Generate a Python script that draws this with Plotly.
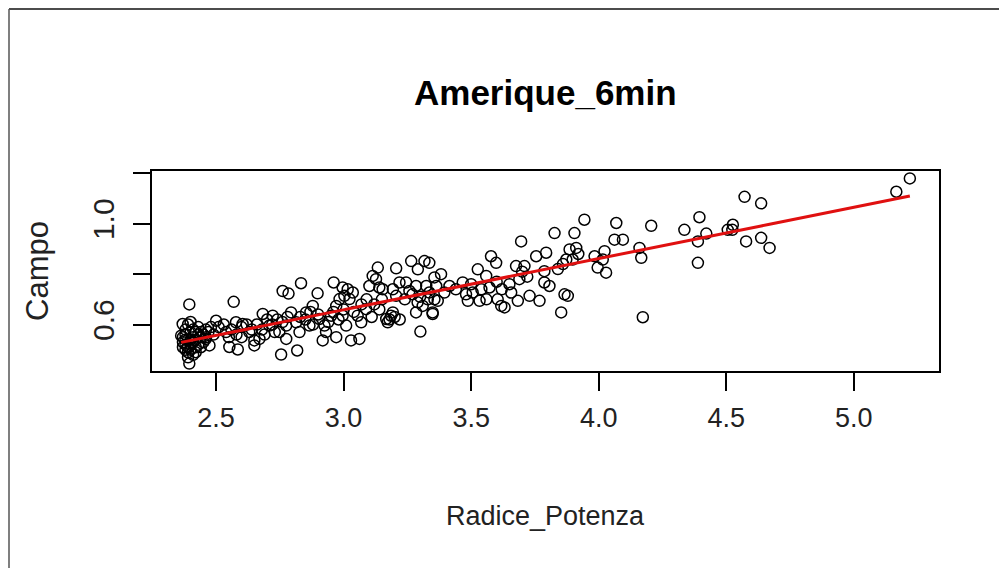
import numpy as np
import plotly.graph_objects as go

title_text = "Amerique_6min"
x_label = "Radice_Potenza"
y_label = "Campo"

radice_potenza = [
    2.363, 2.369, 2.37, 2.38, 2.38, 2.39, 2.37, 2.38, 2.39, 2.40, 2.40, 2.41, 2.41, 2.42, 2.42,
    2.43, 2.43, 2.39, 2.395, 2.41, 2.38, 2.39, 2.40, 2.395, 2.44, 2.44, 2.45, 2.45, 2.37, 2.38,
    2.40, 2.41, 2.42, 2.43, 2.46, 2.46, 2.47, 2.48, 2.49, 2.46, 2.474, 2.39, 2.40, 2.42, 2.44,
    2.50, 2.51, 2.539, 2.552, 2.569, 2.578, 2.585, 2.604, 2.63, 2.65, 2.65, 2.67, 2.683, 2.709,
    2.722, 2.748, 2.755, 2.761, 2.775, 2.775, 2.784, 2.794, 2.814, 2.818, 2.833, 2.53, 2.56,
    2.58, 2.60, 2.62, 2.64, 2.66, 2.68, 2.70, 2.72, 2.74, 2.76, 2.78, 2.55, 2.60, 2.69, 2.73,
    2.827, 2.853, 2.866, 2.879, 2.898, 2.905, 2.918, 2.925, 2.931, 2.951, 2.961, 2.971, 2.971,
    2.984, 2.996, 2.996, 3.003, 3.01, 3.016, 3.023, 3.029, 3.036, 3.055, 3.062, 3.069, 3.088,
    2.85, 2.88, 2.90, 2.94, 2.96, 2.98, 3.00, 3.04, 3.07, 3.09, 2.83, 2.87,
    3.101, 3.114, 3.127, 3.134, 3.14, 3.153, 3.167, 3.173, 3.186, 3.193, 3.193, 3.206, 3.206,
    3.219, 3.245, 3.258, 3.265, 3.284, 3.284, 3.29, 3.291, 3.301, 3.31, 3.317, 3.324, 3.336,
    3.349, 3.356, 3.369, 3.12, 3.15, 3.18, 3.20, 3.22, 3.24, 3.27, 3.30, 3.33, 3.11, 3.14,
    3.336, 3.349, 3.356, 3.363, 3.382, 3.395, 3.415, 3.467, 3.487, 3.506, 3.526, 3.533, 3.559,
    3.572, 3.578, 3.598, 3.604, 3.618, 3.631, 3.657, 3.676, 3.683, 3.689, 3.696, 3.709, 3.729,
    3.755, 3.768, 3.787, 3.787, 3.794, 3.807, 3.44, 3.48, 3.50, 3.54, 3.56, 3.60, 3.62, 3.65,
    3.70, 3.72,
    3.827, 3.853, 3.866, 3.873, 3.879, 3.886, 3.898, 3.905, 3.912, 3.944, 3.984, 3.996, 4.016,
    4.023, 4.029, 4.062, 4.069, 4.095, 4.16, 4.167, 4.173, 4.206, 3.84, 3.86, 3.92,
    4.336, 4.389, 4.389, 4.395, 4.422, 4.506, 4.524, 4.526, 4.572, 4.578, 4.637, 4.637, 4.67,
    5.167, 5.22,
]

campo = [
    0.556, 0.602, 0.55, 0.52, 0.50, 0.49, 0.53, 0.56, 0.54, 0.52, 0.50, 0.53, 0.55, 0.51, 0.54,
    0.52, 0.56, 0.47, 0.445, 0.48, 0.58, 0.60, 0.61, 0.680, 0.55, 0.57, 0.53, 0.56, 0.51, 0.54,
    0.57, 0.58, 0.57, 0.59, 0.58, 0.55, 0.57, 0.59, 0.56, 0.543, 0.517, 0.51, 0.54, 0.49, 0.51,
    0.615, 0.59, 0.57, 0.511, 0.690, 0.609, 0.501, 0.602, 0.57, 0.537, 0.517, 0.543, 0.642, 0.596,
    0.635, 0.57, 0.481, 0.733, 0.543, 0.596, 0.723, 0.648, 0.609, 0.497, 0.764, 0.60, 0.58,
    0.56, 0.59, 0.60, 0.58, 0.60, 0.58, 0.62, 0.60, 0.62, 0.61, 0.63, 0.55, 0.55, 0.56, 0.57,
    0.57, 0.648, 0.596, 0.674, 0.724, 0.622, 0.537, 0.596, 0.57, 0.635, 0.767, 0.55, 0.674,
    0.701, 0.747, 0.635, 0.714, 0.596, 0.740, 0.701, 0.537, 0.727, 0.635, 0.543, 0.609, 0.661,
    0.62, 0.60, 0.64, 0.61, 0.65, 0.62, 0.66, 0.65, 0.68, 0.70, 0.63, 0.65,
    0.753, 0.793, 0.78, 0.826, 0.747, 0.74, 0.622, 0.609, 0.635, 0.74, 0.648, 0.823, 0.714,
    0.767, 0.767, 0.733, 0.852, 0.753, 0.648, 0.688, 0.819, 0.572, 0.674, 0.852, 0.753, 0.727,
    0.642, 0.787, 0.694, 0.68, 0.70, 0.62, 0.63, 0.62, 0.70, 0.72, 0.71, 0.70, 0.63, 0.66,
    0.845, 0.648, 0.70, 0.753, 0.80, 0.727, 0.753, 0.767, 0.694, 0.727, 0.819, 0.694, 0.793,
    0.747, 0.871, 0.845, 0.70, 0.674, 0.668, 0.727, 0.832, 0.694, 0.78, 0.93, 0.832, 0.714,
    0.871, 0.694, 0.812, 0.767, 0.885, 0.753, 0.74, 0.72, 0.76, 0.74, 0.70, 0.77, 0.74, 0.76,
    0.81, 0.79,
    0.963, 0.648, 0.72, 0.858, 0.714, 0.898, 0.858, 0.963, 0.904, 1.016, 0.871, 0.826, 0.858,
    0.891, 0.806, 0.937, 1.003, 0.937, 0.904, 0.865, 0.629, 0.992, 0.82, 0.84, 0.88,
    0.976, 0.93, 0.845, 1.026, 0.961, 0.976, 0.976, 0.996, 1.107, 0.93, 1.081, 0.944, 0.904,
    1.127, 1.18,
]

x_ticks = [2.5, 3.0, 3.5, 4.0, 4.5, 5.0]
x_tick_labels = ["2.5", "3.0", "3.5", "4.0", "4.5", "5.0"]
y_ticks = [0.6, 0.8, 1.0, 1.2]
y_tick_labels = ["0.6", "", "1.0", ""]

xa = np.array(radice_potenza)
ya = np.array(campo)
slope, intercept = np.polyfit(xa, ya, 1)
order = np.argsort(xa)
fit_x = xa[order]
fit_y = intercept + slope * fit_x

# R-style 4% axis extension
xr = xa.max() - xa.min()
yr = ya.max() - ya.min()
x_range = [xa.min() - 0.04 * xr, xa.max() + 0.04 * xr]
y_range = [ya.min() - 0.04 * yr, ya.max() + 0.04 * yr]

FONT = "Liberation Sans, Arial, sans-serif"

fig = go.Figure()
fig.add_trace(go.Scatter(
    x=radice_potenza, y=campo, mode="markers",
    marker=dict(symbol="circle-open", size=11, color="black", line=dict(width=1.5, color="black")),
    showlegend=False, hoverinfo="x+y",
))
fig.add_trace(go.Scatter(
    x=fit_x, y=fit_y, mode="lines",
    line=dict(color="#e01010", width=3),
    showlegend=False,
))

W, H = 999, 568
L, R, T, B = 152, 60, 171, 197
pw, ph = W - L - R, H - T - B

def px_x(p):
    return (p - L) / pw

def px_y(p):
    return 1 - (p - T) / ph

fig.update_layout(
    width=W, height=H,
    margin=dict(l=L, r=R, t=T, b=B, pad=0),
    paper_bgcolor="white", plot_bgcolor="white",
    font=dict(family=FONT, color="black", size=27),
    xaxis=dict(
        range=x_range, tickvals=x_ticks, ticktext=x_tick_labels,
        showgrid=False, zeroline=False, showline=True, mirror=True,
        linecolor="black", linewidth=1.5,
        ticks="outside", ticklen=18, tickwidth=1.5, tickcolor="black",
        tickfont=dict(family=FONT, size=27, color="#222"), ticklabelstandoff=4,
    ),
    yaxis=dict(
        range=y_range, tickvals=y_ticks, ticktext=y_tick_labels,
        showgrid=False, zeroline=False, showline=True, mirror=True,
        linecolor="black", linewidth=1.5,
        ticks="outside", ticklen=17, tickwidth=1.5, tickcolor="black",
        tickangle=-90,
        tickfont=dict(family=FONT, size=30, color="#222"), ticklabelstandoff=7,
    ),
    annotations=[
        dict(text="<b>" + title_text + "</b>", x=0.5, y=px_y(92), xref="paper", yref="paper",
             showarrow=False, xanchor="center", yanchor="middle",
             font=dict(family=FONT, size=35, color="black")),
        dict(text=x_label, x=0.5, y=px_y(516), xref="paper", yref="paper",
             showarrow=False, xanchor="center", yanchor="middle",
             font=dict(family=FONT, size=27, color="#222")),
        dict(text=y_label, x=px_x(37), y=px_y(271), xref="paper", yref="paper",
             showarrow=False, xanchor="center", yanchor="middle", textangle=-90,
             font=dict(family=FONT, size=31, color="#222")),
    ],
    shapes=[
        dict(type="line", xref="paper", yref="paper", x0=px_x(9), x1=px_x(999), y0=px_y(9), y1=px_y(9),
             line=dict(color="#111", width=1.5)),
        dict(type="line", xref="paper", yref="paper", x0=px_x(9), x1=px_x(9), y0=px_y(9), y1=px_y(568),
             line=dict(color="#555", width=1.5)),
    ],
)

fig.write_html(
    "out.html",
    config={"displayModeBar": False},
    post_script="document.body.style.margin='0px';document.body.style.overflow='hidden';",
)
